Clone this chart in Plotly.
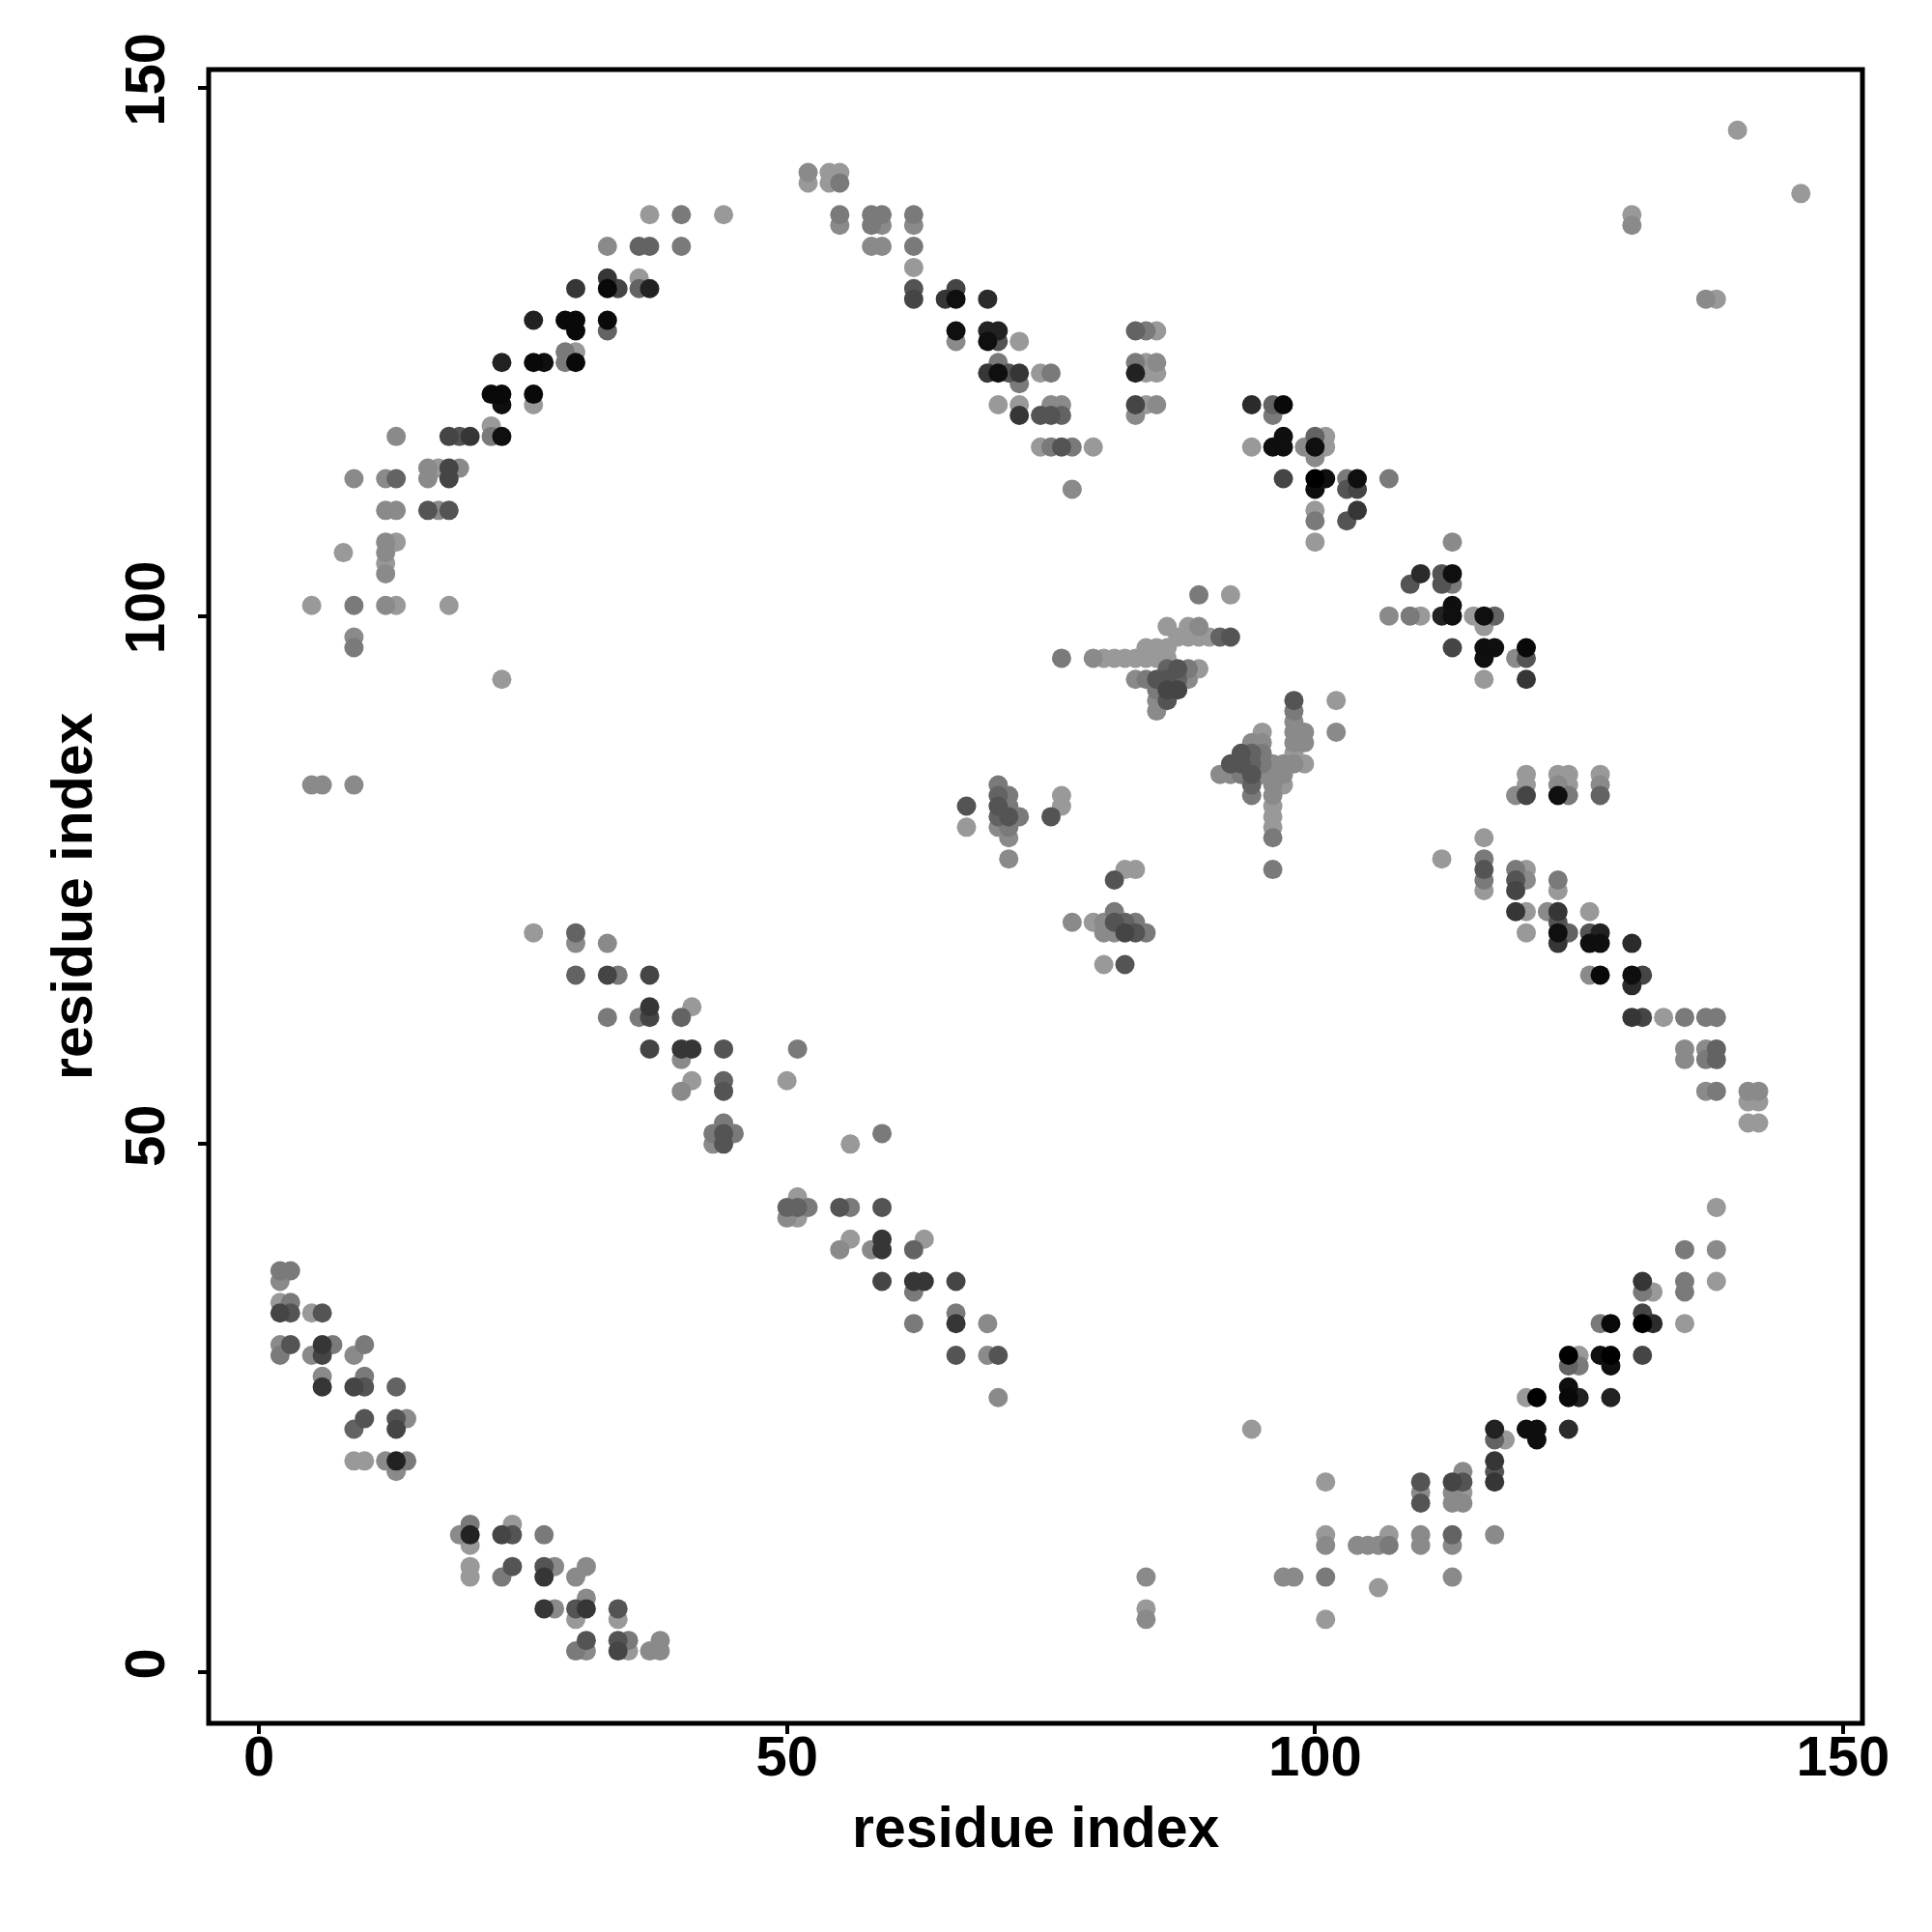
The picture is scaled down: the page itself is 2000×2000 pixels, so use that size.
import plotly.graph_objects as go

# ---------------- data: residue contacts (x, y) and contact score (0 light .. 1 dark) ----------------
# upper-left band
ul_x = [37, 40, 44, 33, 36, 37, 40, 33, 36, 30, 33, 34, 36, 37, 26, 29, 30, 33, 30, 33, 29, 30,
        23, 26, 27, 29, 30, 22, 23, 26, 23, 26, 22, 13, 18, 19, 20, 22, 23, 16, 17, 18, 19,
        9, 12, 13, 16, 18, 12, 13, 16, 17, 18, 12, 13, 8, 12, 12, 12, 5, 9, 12, 13, 18, 9, 9, 23, 5, 6, 9]
ul_y = ([138]*3 + [135]*4 + [132]*2 + [131]*5 + [128]*4 + [127]*2 + [125]*2 + [124]*5 + [121]*3 +
        [120]*2 + [118] + [117]*6 + [114]*4 + [113]*5 + [110]*5 + [107]*2 + [106]*2 + [105] + [104] +
        [101]*5 + [98] + [97] + [94] + [84]*3)
ul_s = [0, .2, 0, .1, .35, .35, .2, .65, 0, .65, .94, .55, .35, .78, .78, .94, .94, .94, .94, .35, .2, 0,
        .78, .94, .9, .2, .94, .94, .94, .94, .9, 0, 0, .1, .55, .45, .65, .2, .9, .1, 0, .55, .1,
        .1, .1, .35, .1, .55, .1, .1, .45, .1, .45, .1, 0, 0, .1, 0, .1, 0, .2, .1, 0, 0, .1, .2, 0, .1, .1, .1]

# upper band (x 52-79)
ub_x = [52, 54, 55, 52, 54, 55, 55, 58, 59, 62, 55, 58, 59, 62, 58, 59, 62, 62, 62, 66, 62, 65, 66, 69,
        66, 69, 70, 66, 69, 70, 72, 70, 69, 70, 71, 72, 74, 75, 72, 70, 72, 75, 76, 72, 74, 75, 76,
        74, 75, 76, 77, 79, 77]
ub_y = ([142]*3 + [141]*3 + [138]*4 + [137]*4 + [135]*3 + [133] + [131]*2 + [130]*4 + [127]*3 +
        [126]*4 + [124] + [123]*6 + [122] + [120]*4 + [119]*4 + [116]*5 + [112])
ub_s = [.1, 0, 0, 0, 0, .2, .2, .2, .2, .2, .1, .2, .1, .1, .1, .1, .2, 0, .45, .55, .55, .65, .9, .72,
        .9, .78, .78, .1, .9, .45, 0, .2, .65, .9, .45, .65, 0, .2, .2, 0, 0, .1, .1, .65, .45, .45, .35,
        0, .2, .45, .2, 0, .1]

# small block near x 83-85
uc_x = [83, 84, 85, 83, 84, 85, 83, 84, 85, 83, 84, 85, 83]
uc_y = [127]*3 + [124]*3 + [123]*3 + [120]*3 + [119]
uc_s = [.35, .2, 0, .2, 0, .1, .78, 0, 0, .55, 0, .1, .1]

# band from (94,120) to (120,94)
ud_x = [94, 96, 97, 96, 97, 100, 101, 94, 96, 97, 99, 100, 101, 100, 97, 100, 101, 103, 104, 107,
        100, 103, 104, 100, 104, 100, 103, 100, 113, 110, 112, 113, 109, 112, 113, 113,
        107, 109, 110, 112, 113, 115, 116, 117, 116, 113, 116, 117, 120, 116, 119, 120, 116, 120]
ud_y = ([120]*3 + [119] + [117]*3 + [116]*6 + [115] + [113]*6 + [112]*3 + [110]*2 + [109]*2 +
        [107]*2 + [104]*3 + [103]*3 + [101] + [100]*8 + [99] + [97]*4 + [96]*3 + [94]*2)
ud_s = [.72, .35, .94, .2, .9, .35, 0, 0, .9, .9, .1, .9, 0, .1, .55, 1, .9, .2, .9, .2,
        .9, .45, .55, 0, .65, .2, .45, 0, .1, .72, .45, .9, .45, .45, .2, .9,
        .1, .2, 0, .78, .9, 0, .9, .35, 0, .55, .9, .9, .94, .9, .1, .45, 0, .65]

# isolated top-right contacts
ue_x = [140, 146, 130, 130, 137, 138]
ue_y = [146, 140, 138, 137, 130, 130]
ue_s = [0, 0, 0, .1, .1, 0]

# central cross clusters
c1_x = [89, 92, 86, 88, 89, 87, 88, 89, 90, 91, 92, 84, 85, 86, 76, 79, 80, 81, 82, 83, 84, 85, 86,
        86, 87, 88, 89, 83, 84, 85, 86, 87, 88, 85, 86, 87, 85, 86, 85]
c1_y = ([102]*2 + [99]*3 + [98]*6 + [97]*3 + [96]*9 + [95]*4 + [94]*6 + [93]*3 + [92]*2 + [91])
c1_s = [.2, 0, 0, 0, .1, 0, 0, 0, 0, .35, .45, 0, 0, 0, .2, .1, 0, 0, 0, 0, 0, 0, 0,
        .35, .45, .2, 0, .1, .2, .45, .45, .35, .1, .2, .55, .55, .1, .45, .1]

c2_x = [98, 98, 98, 95, 98, 99, 94, 95, 98, 99, 93, 94, 95, 98, 92, 93, 94, 95, 96, 97, 98, 99,
        91, 92, 93, 94, 95, 96, 97, 94, 96, 97, 94, 96, 96, 96, 96, 96, 96, 102, 102]
c2_y = ([92, 91, 90] + [89]*3 + [88]*4 + [87]*4 + [86]*8 + [85]*7 + [84]*3 + [83]*2 +
        [82, 81, 80, 79, 76, 92, 89])
c2_s = [.45, .2, .1, 0, .1, .1, .1, .1, .1, .1, .45, .35, .2, 0, .45, .45, .35, .2, .1, .1, .1, 0,
        .1, .1, .2, .45, .1, .1, .1, .35, .1, 0, .2, .1, 0, 0, 0, .2, .2, 0, .1]

c3_x = [70, 70, 71, 76, 67, 70, 71, 76, 70, 71, 72, 75, 67, 70, 71, 71, 71]
c3_y = [84] + [83]*3 + [82]*4 + [81]*4 + [80]*3 + [79, 77]
c3_s = [.2, .35, .2, 0, .45, .45, .2, 0, .35, .45, .2, .45, 0, .1, .2, .1, .1]

c4_x = [82, 83, 81, 81, 77, 79, 80, 81, 82, 83, 80, 81, 82, 83, 84, 80, 82]
c4_y = [76, 76, 75, 72] + [71]*6 + [70]*5 + [67]*2
c4_s = [0, 0, .45, .2, .1, 0, .1, .45, .35, .2, .1, .1, .55, .45, .2, 0, .45]

# right band (x 112-142, y 52-85)
rb_x = [120, 123, 124, 127, 120, 123, 124, 127, 119, 120, 123, 124, 127, 116, 112, 116,
        116, 119, 120, 116, 119, 120, 123, 116, 119, 123, 119, 120, 122, 123, 126, 123,
        120, 123, 124, 126, 127, 123, 126, 127, 130, 126, 127, 130, 131, 130,
        130, 131, 133, 135, 137, 138, 135, 137, 138, 135, 137, 138, 137, 138, 141, 142,
        141, 142, 141, 142]
rb_y = ([85]*4 + [84]*4 + [83]*5 + [79] + [77]*2 + [76]*3 + [75]*4 + [74]*3 + [72]*5 + [71] +
        [70]*5 + [69]*4 + [66]*4 + [65] + [62]*6 + [59]*3 + [58]*3 + [55]*4 + [54]*2 + [52]*2)
rb_s = [0, 0, 0, 0, 0, .1, 0, .1, .1, .55, .9, .2, .35, 0, 0, .2,
        .45, .2, 0, .2, .45, .1, .2, 0, .55, 0, .65, 0, .1, .65, 0, .45,
        0, .9, .35, .45, .78, .65, .9, .9, .72, .1, .94, .9, .55, .72,
        .65, .55, 0, .2, .2, .2, .1, .1, .35, .1, .2, .35, .1, .2, .1, .1,
        0, 0, 0, 0]

# middle band (x 26-70, y 26-70) and scattered low contacts
mb_x = [26, 30, 30, 33, 30, 33, 34, 37, 37, 41, 33, 36, 37, 40, 37, 40, 41, 44, 40, 41, 44, 40, 44,
        44, 43, 44, 45, 43, 44, 51, 50, 59, 56]
mb_y = ([70]*2 + [69]*2 + [66]*4 + [63]*2 + [62]*4 + [59]*4 + [58] + [56]*2 + [55]*2 + [52] +
        [51]*3 + [50]*2 + [59, 56, 51, 50])
mb_s = [0, .35, .1, .1, .35, .55, .2, .55, .65, 0, .2, .2, .55, .35, .55, .65, .65, .45, .1, 0, .35, .1, .45,
        .2, .2, .45, .2, .1, .45, .2, 0, .2, 0]

md_x = [51, 50, 51, 52, 55, 56, 59, 50, 51, 56, 59, 63, 55, 58, 59, 62, 59, 62, 63, 66, 62, 66,
        62, 66, 69, 66, 69, 70, 70, 94, 84, 97, 98, 84, 84]
md_y = ([45] + [44]*6 + [43]*2 + [41]*3 + [40]*4 + [37]*4 + [36] + [34] + [33]*3 + [30]*3 +
        [26, 23] + [9]*3 + [6, 5])
md_s = [0, .35, .35, .2, .45, .2, .45, .1, 0, 0, .65, 0, .1, .1, .65, .35, .55, .65, .65, .55, .2, .2,
        .2, .65, .1, .45, .1, .45, .1, 0, .1, .1, .1, 0, .1]

# lower-left band
ll_x = [2, 3, 2, 2, 3, 2, 3, 5, 6, 2, 3, 6, 7, 10, 2, 5, 6, 9, 6, 10, 6, 9, 10, 13, 10, 13, 14,
        9, 13, 9, 10, 12, 13, 14, 13, 20, 24, 19, 20, 23, 24, 27, 20, 20, 24, 27, 28, 31,
        20, 23, 27, 30, 31, 27, 28, 30, 31, 34, 30, 34, 31, 34, 35, 38, 30, 31, 34, 35, 37, 38]
ll_y = ([38]*2 + [37] + [35]*2 + [34]*4 + [31]*5 + [30]*4 + [28]*2 + [27]*4 + [24]*3 + [23]*2 +
        [20]*5 + [19] + [14]*2 + [13]*5 + [12] + [10]*5 + [9]*4 + [7] + [6]*5 + [5]*2 + [3]*4 + [2]*6)
ll_s = [.2, .2, .1, 0, .2, .55, .45, 0, .45, .1, .45, .65, .2, .2, .2, .1, .55, .1, .1, .2, .65, .55, .45, .35,
        .45, .45, .1, .35, .55, 0, 0, .1, .78, .2, .1, .2, 0, .1, .78, .55, .45, .2, 0, 0, .45, .45, .1, .1,
        0, .2, .65, .1, .1, .65, .1, .45, .65, .45, 0, 0, .45, .45, .2, .1, .2, .1, .55, 0, .1, .1]

# lower-right band
lr_x = [138, 135, 138, 131, 135, 138, 131, 132, 135, 131, 127, 128, 131, 132, 135, 124, 125, 127, 128, 131,
        124, 125, 128, 124, 120, 121, 124, 125, 128, 117, 120, 121, 124, 117, 118, 121, 117, 114, 117,
        101, 110, 113, 114, 117, 110, 113, 114, 110, 113, 114, 101, 107, 110, 113, 117,
        101, 104, 105, 106, 107, 110, 113, 101, 113, 106, 101]
lr_y = ([44] + [40]*2 + [37]*3 + [36]*3 + [34] + [33]*5 + [30]*5 + [29]*3 + [27] + [26]*5 + [23]*4 +
        [22]*3 + [20] + [19]*2 + [18]*5 + [17]*3 + [16]*3 + [13]*5 + [12]*7 + [9]*2 + [8] + [5])
lr_s = [0, .2, .1, .65, .2, 0, .2, 0, .2, .55, .2, .94, 1, .72, 0, 1, 0, .9, 1, .55,
        .35, .2, .9, .9, 0, 1, .94, .78, .78, .78, .9, .9, .72, .35, 0, .9, .65, .1, .45,
        0, .45, .55, .45, .65, .1, .1, 0, .45, .1, .1, 0, 0, .1, .35, .1,
        .1, .1, .1, .1, .2, .1, .1, .2, .1, 0, 0]

x_ticks = [0, 50, 100, 150]
y_ticks = [0, 50, 100, 150]
axis_label = "residue index"

groups = [(ul_x, ul_y, ul_s), (ub_x, ub_y, ub_s), (uc_x, uc_y, uc_s), (ud_x, ud_y, ud_s),
          (ue_x, ue_y, ue_s), (c1_x, c1_y, c1_s), (c2_x, c2_y, c2_s), (c3_x, c3_y, c3_s),
          (c4_x, c4_y, c4_s), (rb_x, rb_y, rb_s), (mb_x, mb_y, mb_s), (md_x, md_y, md_s),
          (ll_x, ll_y, ll_s), (lr_x, lr_y, lr_s)]
xs, ys, ss = [], [], []
for i, (gx, gy, gs) in enumerate(groups):
    assert len(gx) == len(gy) == len(gs), (i, len(gx), len(gy), len(gs))
    xs += gx
    ys += gy
    ss += gs

# draw lighter first so darker contacts sit on top
order = sorted(range(len(xs)), key=lambda k: ss[k])
xs = [xs[k] for k in order]
ys = [ys[k] for k in order]
ss = [ss[k] for k in order]

FONT = "Liberation Sans, Arial, Helvetica, sans-serif"

fig = go.Figure()
fig.add_trace(go.Scatter(
    x=xs, y=ys, mode="markers",
    marker=dict(size=20, color=ss, cmin=0, cmax=1,
                colorscale=[[0, "rgb(153,153,153)"], [1, "rgb(0,0,0)"]],
                showscale=False, line=dict(width=0)),
    hoverinfo="x+y", showlegend=False,
))

fig.update_layout(
    width=2000, height=2000,
    margin=dict(l=208, r=80, t=64, b=224, pad=0),
    paper_bgcolor="white", plot_bgcolor="white",
    xaxis=dict(range=[-4.756, 151.83], tickvals=x_ticks, ticktext=[str(v) for v in x_ticks],
               ticks="outside", ticklen=10, tickwidth=4, tickcolor="black",
               ticklabelstandoff=-27,
               showgrid=False, zeroline=False, showline=False,
               tickfont=dict(family=FONT, size=58, color="black", weight="bold")),
    yaxis=dict(range=[-4.85, 151.74], tickvals=y_ticks, ticktext=[str(v) for v in y_ticks],
               ticks="outside", ticklen=10, tickwidth=4, tickcolor="black", tickangle=-90,
               ticklabelstandoff=12,
               showgrid=False, zeroline=False, showline=False,
               tickfont=dict(family=FONT, size=58, color="black", weight="bold")),
    shapes=[dict(type="rect", xref="paper", yref="paper", x0=0, x1=1, y0=0, y1=1,
                 line=dict(color="black", width=5), fillcolor="rgba(0,0,0,0)", layer="above")],
    annotations=[
        dict(text=axis_label, xref="paper", yref="paper", x=0.5, y=0, xanchor="center",
             yanchor="middle", yshift=-108, showarrow=False,
             font=dict(family=FONT, size=59, color="black", weight="bold")),
        dict(text=axis_label, xref="paper", yref="paper", x=0, y=0.5, xanchor="center",
             yanchor="middle", xshift=-141, textangle=-90, showarrow=False,
             font=dict(family=FONT, size=59, color="black", weight="bold")),
    ],
)

fig.write_html("out.html")
